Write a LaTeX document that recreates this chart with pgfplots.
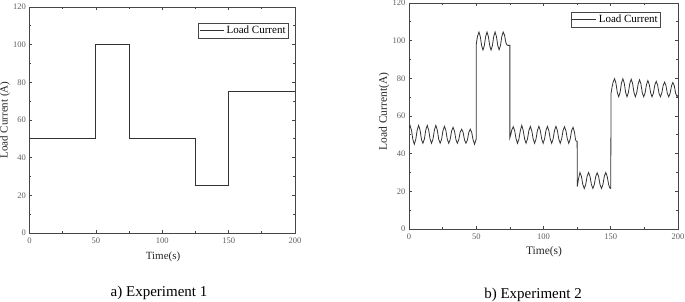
\documentclass[border=0pt]{standalone}
\usepackage{pgfplots}
\pgfplotsset{compat=1.18}
\usepackage{fontspec}
\setmainfont{Liberation Serif}
\definecolor{axcol}{RGB}{70,70,70}
\definecolor{lncol}{RGB}{50,50,50}
\definecolor{tkcol}{RGB}{95,95,95}
\pgfplotsset{
  myaxis/.style={
    scale only axis,
    xmin=0, xmax=200, ymin=0, ymax=120,
    xtick={0,50,100,150,200},
    ytick={0,20,40,60,80,100,120},
    minor x tick num=1, minor y tick num=1,
    tick align=inside,
    major tick length=3pt, minor tick length=2pt,
    axis line style={axcol, line width=0.9pt},
    every tick/.style={axcol, line width=0.7pt},
    tick label style={font=\fontsize{8.5}{9}\selectfont, text=tkcol},
    /pgf/number format/assume math mode=true,
    xticklabel style={yshift=-1pt},
    label style={font=\fontsize{11}{12}\selectfont, text=black!85},
    xlabel={Time(s)},
    legend style={draw=axcol, line width=0.6pt, font=\fontsize{11}{12}\selectfont, inner sep=1pt, row sep=0pt, cells={anchor=west}},
    legend image code/.code={\draw[#1] (0pt,0pt) -- (24pt,0pt);},
    legend cell align=left,
  }
}
\begin{document}
\begin{tikzpicture}[x=1pt,y=1pt]
\useasboundingbox (0,0) rectangle (685,302);
\begin{axis}[myaxis,
  at={(29.5pt,69pt)}, anchor=south west,
  width=265.5pt, height=226pt,
  ylabel={Load Current (A)},
  xlabel style={at={(axis description cs:0.503,-0.106)}, anchor=center},
  ylabel style={at={(axis description cs:-0.092,0.5)}, anchor=center},
  legend style={at={(axis description cs:0.977,0.929)}, anchor=north east},
]
\addplot[lncol, line width=1pt] coordinates {
(0,50)(50,50)(50,100)(75,100)(75,50)(125,50)(125,25)(150,25)(150,75)(200,75)
};
\addlegendentry{Load Current}
\end{axis}
\begin{axis}[myaxis,
  at={(409pt,73pt)}, anchor=south west,
  width=269pt, height=226pt,
  ylabel={Load Current(A)},
  label style={font=\fontsize{11.5}{12}\selectfont},
  xlabel style={at={(axis description cs:0.502,-0.102)}, anchor=center},
  ylabel style={at={(axis description cs:-0.093,0.52)}, anchor=center},
  legend style={at={(axis description cs:0.937,0.96)}, anchor=north east},
]
\addplot[lncol, line width=0.8pt] coordinates {
(0,53.7)(0.75,55)(1.82,52.5)(2.88,47.5)(3.95,45)(5.02,47.5)(6.08,52.5)
(7.15,55)(8.22,52.5)(9.28,47.5)(10.35,45.5)(11.42,47.7)(12.48,52.6)
(13.55,55)(14.62,52.6)(15.68,47.7)(16.75,45.5)(17.82,47.7)(18.88,52.6)
(19.95,55)(21.02,52.6)(22.08,47.7)(23.15,45.5)(24.22,47.6)(25.28,52.3)
(26.35,54.5)(27.42,52.3)(28.48,47.6)(29.55,45.5)(30.62,47.6)(31.68,52)
(32.75,54)(33.82,52)(34.88,47.5)(35.95,45.5)(37.02,47.5)(38.08,51.5)
(39.15,53)(40.22,51.3)(41.28,47.3)(42.35,45.5)(43.42,47.3)(44.48,51.3)
(45.55,53)(46.62,51.3)(47.68,47.2)(48.75,45)(49.82,47.5)(50,48)
(50,98)(50.5,100.5)(51,102.5)(52,104.6)(53,102.2)(54,97.4)(55,95)(56,97.4)(57,102.2)
(58,104.6)(59,102.2)(60,97.4)(61,95)(62,97.4)(63,102.2)
(64,104.6)(65,102.2)(66,97.4)(67,95.2)(68,97.4)(69,102.2)
(70,104.6)(71,103)(72,99)(72.8,97.8)(73.5,97.5)(75,97.5)
(75,48.5)(75.8,50.5)(76.4,52.5)(77.5,54.3)(78.56,52.3)(79.62,47.8)(80.67,45.5)(81.73,47.8)(82.79,52.3)
(83.85,55)(84.91,52.3)(85.97,47.8)(87.03,45.5)(88.08,47.8)(89.14,52.3)
(90.2,54.5)(91.26,52.3)(92.32,47.8)(93.38,45.5)(94.43,47.8)(95.49,52.3)
(96.55,54.5)(97.61,52.3)(98.67,47.8)(99.73,45.5)(100.78,47.8)(101.84,52.3)
(102.9,54.5)(103.96,52.3)(105.02,47.8)(106.08,45.5)(107.13,47.8)(108.19,52.3)
(109.25,54.5)(110.31,52.3)(111.37,47.8)(112.43,45.5)(113.48,47.8)(114.54,52.3)
(115.6,54.3)(116.66,52.2)(117.72,47.8)(118.78,45.5)(119.83,47.8)(120.89,52.2)
(121.95,54)(123.0,51.5)(123.8,47.5)(124.2,46.8)(125,46.5)
(125.1,22.5)(126.0,26.5)(127.1,30)(128.17,28)(129.23,23.6)(130.3,21.5)(131.37,23.6)(132.43,28)
(133.5,30)(134.57,28)(135.63,23.6)(136.7,21.5)(137.77,23.6)(138.83,27.9)
(139.9,29.8)(140.97,27.9)(142.03,23.6)(143.1,21.5)(144.17,23.6)(145.23,28)
(146.3,30)(147.37,27.9)(148.43,23.6)(149.3,21.8)(150,21.5)
(150.2,72)(151.0,75.5)(151.77,78)(152.8,79.8)(153.83,77.5)(154.87,72.5)(155.9,70.2)(156.93,72.5)(157.97,77.5)
(159.0,79.8)(160.03,77.5)(161.07,72.5)(162.1,70.2)(163.13,72.5)(164.17,77.3)
(165.2,79.5)(166.23,77.3)(167.27,72.4)(168.3,70.2)(169.33,72.4)(170.37,77)
(171.4,79.2)(172.43,77)(173.47,72.3)(174.5,70.2)(175.53,72.3)(176.57,76.7)
(177.6,78.8)(178.63,76.7)(179.67,72.2)(180.7,70.2)(181.73,72.2)(182.77,76.5)
(183.8,78.4)(184.83,76.5)(185.87,72.1)(186.9,70.2)(187.93,72.1)(188.97,76.2)
(190.0,78)(191.03,76.2)(192.07,72)(193.1,70.2)(194.13,72)(195.17,76)
(196.2,77.8)(197.23,76)(198.27,72)(199.3,70.2)(200,71)
};
\addlegendentry{Load Current}
\end{axis}
\node[font=\fontsize{15}{16}\selectfont] at (159,9) {a) Experiment 1};
\node[font=\fontsize{15}{16}\selectfont] at (533,7) {b) Experiment 2};
\end{tikzpicture}
\end{document}
